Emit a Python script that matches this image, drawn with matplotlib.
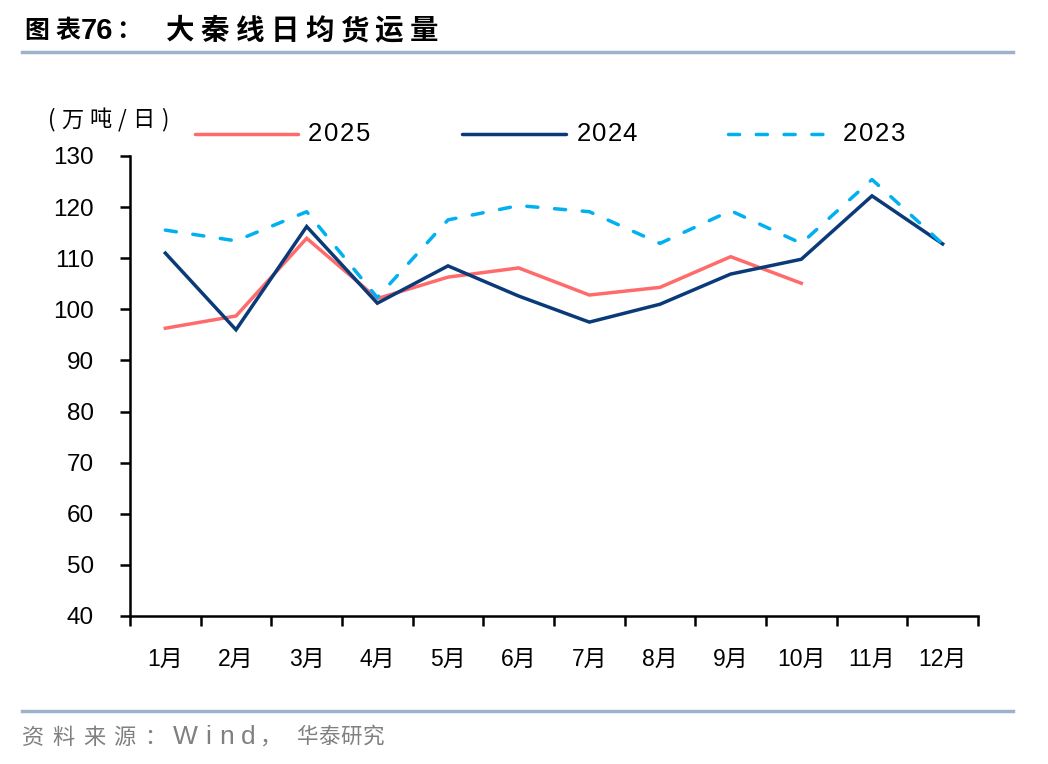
import matplotlib
matplotlib.use("Agg")
import matplotlib.pyplot as plt
from matplotlib.lines import Line2D

months = ["1月", "2月", "3月", "4月", "5月", "6月", "7月", "8月", "9月", "10月", "11月", "12月"]
y2025 = [96.3, 98.7, 113.9, 102.1, 106.3, 108.1, 102.8, 104.3, 110.3, 105.1]
y2024 = [111.0, 96.0, 116.2, 101.2, 108.5, 102.6, 97.5, 101.0, 106.9, 109.8, 122.2, 112.8]
y2023 = [115.5, 113.4, 119.1, 102.3, 117.5, 120.3, 119.1, 112.9, 119.3, 112.9, 125.4, 112.8]
yticks = [40, 50, 60, 70, 80, 90, 100, 110, 120, 130]

c25 = "#FF6B6B"
c24 = "#0A3A78"
c23 = "#00B0F0"
fam = ["Liberation Sans", "Noto Sans CJK SC", "DejaVu Sans"]
cjk = ["Noto Sans CJK SC", "DejaVu Sans"]
plt.rcParams["font.family"] = fam

W, H = 1048, 764
fig = plt.figure(figsize=(W / 100, H / 100), dpi=100)
ax = fig.add_axes([130 / W, 1 - 616 / H, (978 - 130) / W, (616 - 156) / H])
dash = (0, (3.2, 4.8))
lw = 2.5

x = list(range(len(months)))
ax.plot(x[:len(y2025)], y2025, color=c25, lw=lw, solid_joinstyle="miter")
ax.plot(x, y2024, color=c24, lw=lw, solid_joinstyle="miter")
ax.plot(x, y2023, color=c23, lw=lw, ls=dash, dash_capstyle="round")

ax.set_xlim(-0.5, 11.5)
ax.set_ylim(40, 130)
ax.set_yticks(yticks)
ax.set_yticklabels([str(v) for v in yticks], fontsize=17.5)
ax.set_xticks([i - 0.5 for i in range(13)])
ax.set_xticklabels([])
ax.set_xticks(x, minor=True)
ax.set_xticklabels(months, minor=True, fontsize=16.5)
ax.tick_params(axis="x", which="major", length=7, width=1.8, direction="out")
ax.tick_params(axis="x", which="minor", length=0, pad=23)
ax.tick_params(axis="y", length=7, width=1.8, direction="out", pad=19)
for s in ["top", "right"]:
    ax.spines[s].set_visible(False)
for s in ["left", "bottom"]:
    ax.spines[s].set_linewidth(1.8)

def fx(px):
    return px / W

def fy(py):
    return 1 - py / H

renderer = fig.canvas.get_renderer()

def fitted(x0, x1, ypx, s, **kw):
    arts = [fig.text(0, fy(ypx), ch, va="center", ha="left", **kw) for ch in s]
    widths = [a.get_window_extent(renderer=renderer).width for a in arts]
    gap = (x1 - x0 - sum(widths)) / max(len(s) - 1, 1)
    cur = x0
    for a, w in zip(arts, widths):
        a.set_x(fx(cur))
        cur += w + gap

# legend
ly = 134
for (x0, x1, tx0, tx1, col, ls, lab) in [
    (195, 298, 308, 370, c25, "-", "2025"),
    (462, 566, 577, 637, c24, "-", "2024"),
    (728, 830, 843, 905, c23, dash, "2023"),
]:
    fig.add_artist(Line2D([fx(x0), fx(x1)], [fy(ly), fy(ly)], color=col, lw=lw, ls=ls,
                          dash_capstyle="round", solid_capstyle="round"))
    fitted(tx0, tx1, ly, lab, fontsize=18.5)

fitted(48, 168, 120, "(万吨/日)", fontsize=16, family=cjk)

# title and rules
fitted(24, 80, 31, "图表", fontsize=18, fontweight="bold", family=cjk)
fig.text(fx(81), fy(31), "76", fontsize=21, fontweight="bold", va="center", ha="left",
         family=fam)
fig.text(fx(116), fy(31), "：", fontsize=18, fontweight="bold", va="center", ha="left",
         family=cjk)
fitted(166, 438, 31, "大秦线日均货运量", fontsize=20.5, fontweight="bold", family=cjk)
fig.add_artist(Line2D([fx(22), fx(1013)], [fy(52), fy(52)], color="#9DB3CC", lw=2.5))
fig.add_artist(Line2D([fx(22), fx(1013)], [fy(711), fy(711)], color="#9DB3CC", lw=2.5))
grey = "#808080"
fitted(22, 166, 737, "资料来源：", fontsize=16, color=grey, family=cjk)
fitted(173, 256, 737, "Wind", fontsize=19, color=grey, family=fam)
fig.text(fx(260), fy(737), "，", fontsize=16, color=grey, va="center", ha="left", family=cjk)
fitted(296, 384, 737, "华泰研究", fontsize=15.5, color=grey, family=cjk)

fig.savefig("out.png", dpi=100)
